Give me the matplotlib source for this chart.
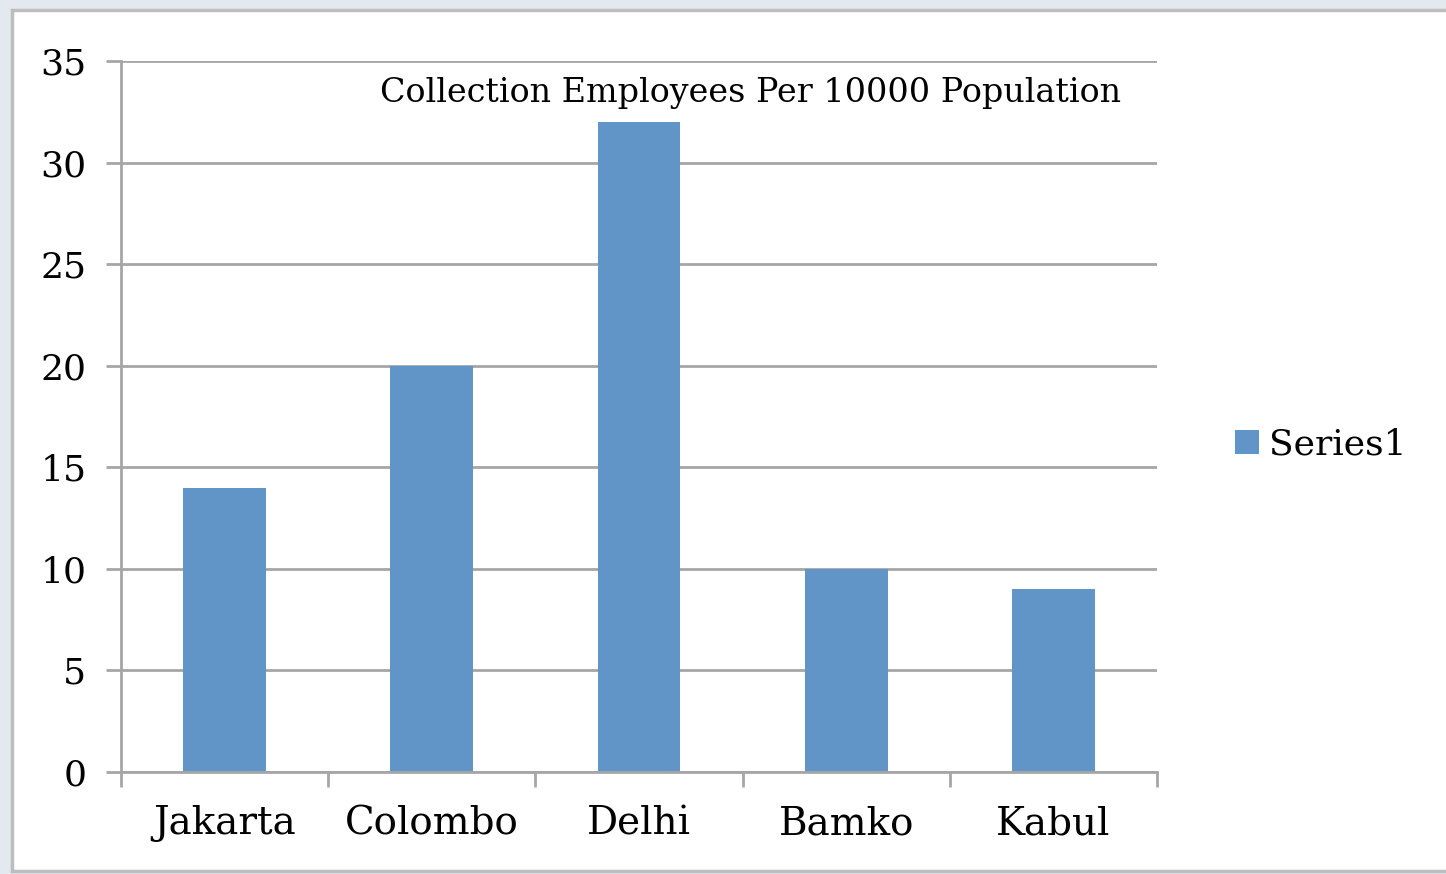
import matplotlib.pyplot as plt
from matplotlib.patches import Rectangle

cities = ["Jakarta", "Colombo", "Delhi", "Bamko", "Kabul"]
employees = [14, 20, 32, 10, 9]
y_ticks = [0, 5, 10, 15, 20, 25, 30, 35]

W, H = 1446, 874
bar_color = "#6195c8"
grid_color = "#a6a6a6"

plt.rcParams["font.family"] = ["DejaVu Serif"]

fig = plt.figure(figsize=(W / 100, H / 100), dpi=100)
fig.patch.set_facecolor("#e4e9f0")

# white chart area with a grey frame
frame = Rectangle((12 / W, 3 / H), 1.2, (H - 13) / H, transform=fig.transFigure,
                  facecolor="white", edgecolor="#bdbdbd", linewidth=2.5, zorder=-5)
fig.patches.append(frame)

ax = fig.add_axes([121 / W, (H - 772) / H, (1157 - 121) / W, (772 - 61) / H])
ax.set_zorder(2)
ax.set_facecolor("none")

x = list(range(len(cities)))
ax.bar(x, employees, width=0.4, color=bar_color, label="Series1", zorder=3)

ax.set_xlim(-0.5, len(cities) - 0.5)
ax.set_ylim(0, 35)
ax.set_yticks(y_ticks)
ax.set_yticklabels([str(t) for t in y_ticks], fontsize=26)
ax.yaxis.grid(True, color=grid_color, linewidth=2, zorder=0)

ax.set_xticks(x)
ax.set_xticklabels(cities, fontsize=28)
ax.tick_params(axis="x", length=0, pad=24)
ax.set_xticks([i - 0.5 for i in range(len(cities) + 1)], minor=True)
ax.tick_params(axis="x", which="minor", length=11, width=2, color=grid_color)
ax.tick_params(axis="y", length=11, width=2, color=grid_color, pad=14)

for side in ["top", "right"]:
    ax.spines[side].set_visible(False)
for side in ["left", "bottom"]:
    ax.spines[side].set_color(grid_color)
    ax.spines[side].set_linewidth(2)
    ax.spines[side].set_zorder(4)

fig.text(750 / W, (H - 93) / H, "Collection Employees Per 10000 Population",
         ha="center", va="center", fontsize=24, zorder=5)

ax.legend(loc="center left", bbox_to_anchor=(1.044, 0.46), frameon=False,
          fontsize=26, handlelength=0.65, handleheight=0.65, handletextpad=0.3)

fig.savefig("out.png", dpi=100)
